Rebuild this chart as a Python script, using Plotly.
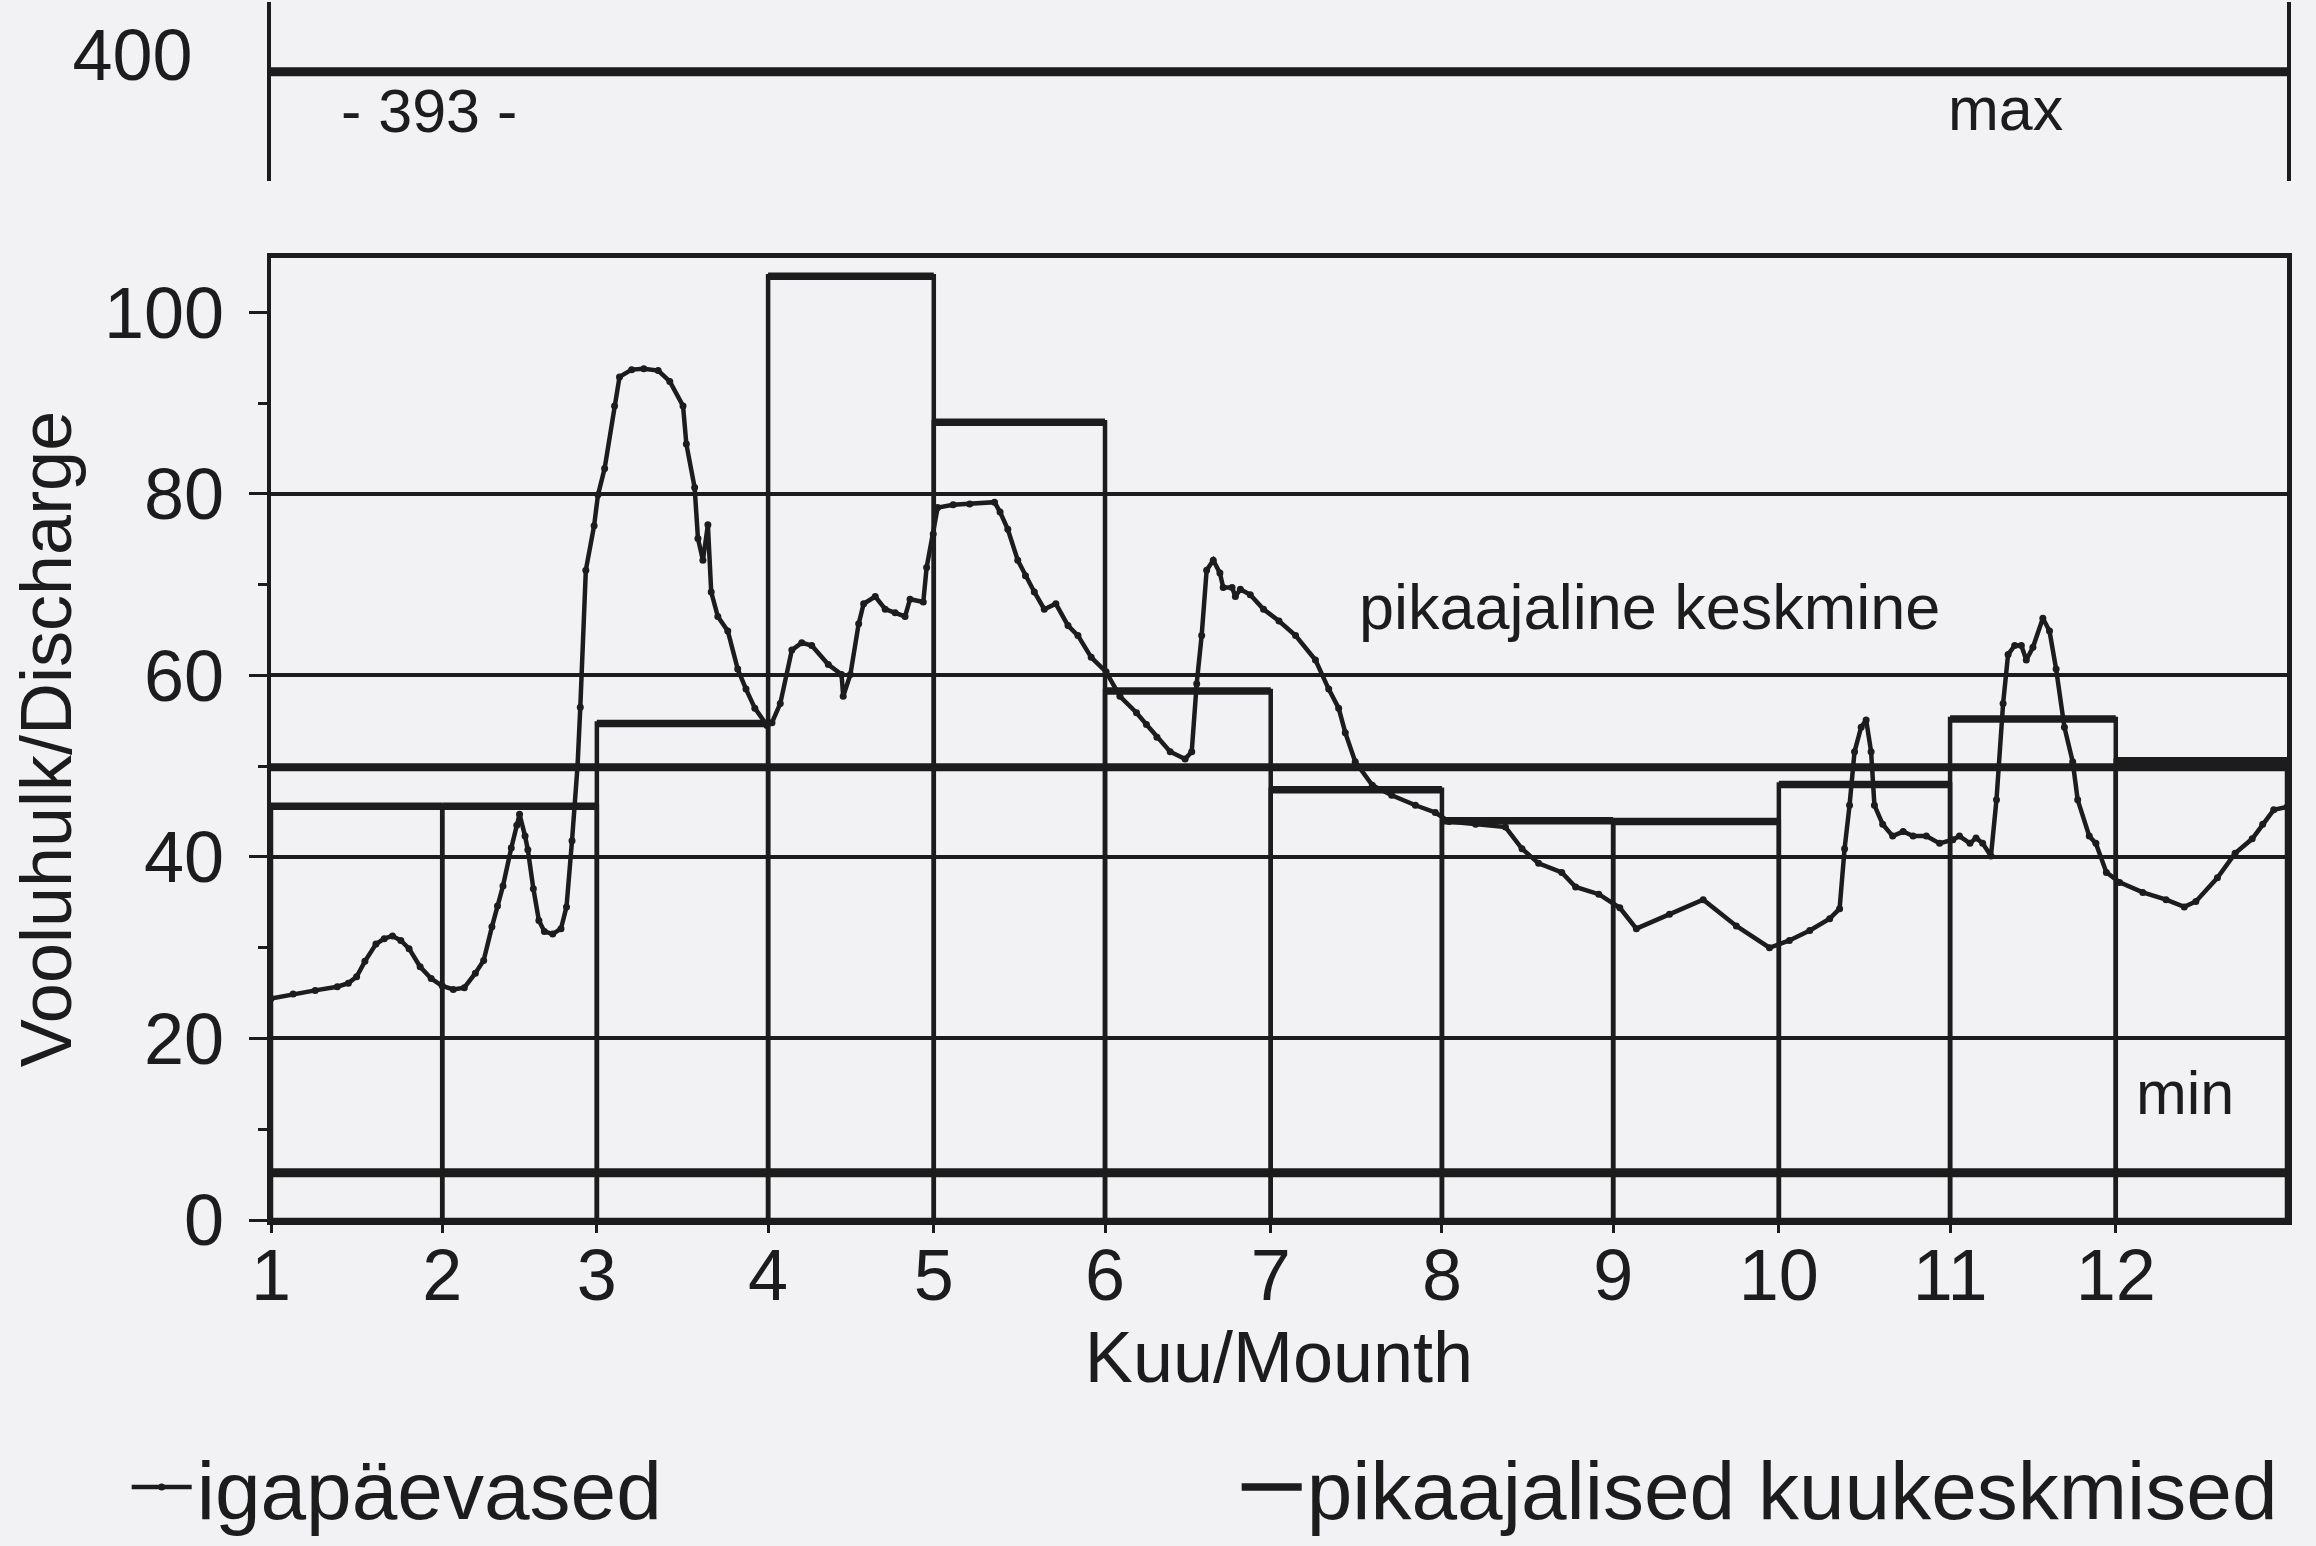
import plotly.graph_objects as go

# ---------------- data ----------------
months = [1, 2, 3, 4, 5, 6, 7, 8, 9, 10, 11, 12]
month_days = [31, 28, 31, 30, 31, 30, 31, 31, 30, 31, 30, 31]
# long-term monthly means (pikaajalised kuukeskmised)
monthly_mean = [45.6, 45.6, 54.7, 104.0, 87.9, 58.3, 47.4, 44.0, 43.9, 48.0, 55.2, 50.6]

long_term_mean = 49.9   # pikaajaline keskmine
min_discharge = 5.2     # min
max_discharge = 393     # max

# daily discharge (igapäevased): day of year, value
day = [0, 4, 8, 12, 14, 15.5, 17, 19, 20.5, 22, 23.5, 25, 27, 29, 31, 33, 35, 37, 38.5, 40,
       41, 42, 43.5, 44.5, 45, 46, 46.5, 47.5, 48.5, 49.5, 51, 52.5, 53.5, 54.5, 55.5, 56, 57, 58.5,
       59.2, 60.4, 62.2, 63.1, 65.3, 67.5, 70.1, 72.2, 74.6, 75.2, 76.7, 77.3, 78.2, 79.1, 79.7,
       80.9, 82.7, 84.5, 86, 87.6, 89.8,
       90.7, 92.2, 94.3, 96.1, 97.9, 100.9, 103.3, 103.6, 104.9, 106.4, 107.3, 109.4, 111.2, 113,
       114.8, 115.7, 118.1, 118.7, 119.9,
       120.7, 123.5, 126.5, 131, 132, 133.4, 135.2, 136.6, 138.2, 140, 142.1, 144.3, 146.1, 148.5,
       151.2,
       153.7, 156.7, 158.5, 160.4, 162.8, 165.5, 166.7, 167.6, 168.5, 169.4, 170.6, 171.8, 172.4,
       174, 174.6, 175.5, 177.3, 179.7,
       182.5, 185.5, 189.1, 191.5, 193.3, 194.5, 196.3, 199.4, 202.9, 207.2, 210.8, 213.3, 218.1,
       223.5, 226.5, 229.5, 233.7, 236.2, 240.4,
       244.2, 247.2, 253.2, 259.3, 265.3, 271.3, 274.9, 278.6, 282.2, 284, 284.9, 285.8, 286.7,
       287.9, 288.8, 289.7, 290.3, 291.8, 293.6, 295.5, 297.3, 299.7, 302.1, 304.5, 305.7, 307.6,
       308.7, 309.9, 311.4, 312.4, 313.6, 314.5, 315.7, 316.9, 317.8, 319, 320.8, 322, 323.2,
       324.7, 326.2, 327.1, 329.2, 330.4, 332.3, 334.7, 338.9, 343.1, 346.4, 348.5, 352.4, 355.6,
       358.7, 360.6, 362.6, 365]
discharge = [24.4, 24.9, 25.3, 25.7, 26.1, 26.8, 28.5, 30.4, 31.0, 31.3, 30.8, 29.9, 27.9, 26.6,
             25.8, 25.4, 25.6, 27.2, 28.6, 32.3,
             34.6, 36.8, 41.0, 43.5, 44.7, 42.3, 40.8, 36.5, 33.0, 31.8, 31.5, 32.1, 34.5, 41.8,
             50.0, 56.5, 71.6, 76.5,
             79.9, 82.8, 89.7, 92.9, 93.7, 93.8, 93.6, 92.4, 89.7, 85.5, 80.7, 75.1, 72.7, 76.6,
             69.2, 66.5, 64.9, 60.7, 58.5, 56.4, 54.5,
             54.8, 56.9, 62.8, 63.6, 63.3, 61.2, 60.1, 57.7, 60.1, 65.7, 67.9, 68.7, 67.3, 66.9,
             66.5, 68.4, 68.1, 71.9, 75.6,
             78.5, 78.8, 78.9, 79.1, 78.0, 76.1, 72.7, 71.0, 69.2, 67.3, 67.9, 65.5, 64.4, 62.0,
             60.4,
             57.7, 55.9, 54.6, 53.2, 51.6, 50.8, 51.6, 59.1, 64.4, 71.6, 72.7, 71.3, 69.7, 69.7,
             68.7, 69.5, 68.9, 67.3,
             66.0, 64.4, 61.7, 58.5, 56.4, 53.7, 50.5, 47.9, 46.8, 45.7, 44.9, 43.9, 43.6, 43.3,
             40.9, 39.3, 38.3, 36.7, 35.9,
             34.4, 32.1, 33.7, 35.3, 32.4, 30.0, 30.8, 31.9, 33.2, 34.3, 40.9, 45.7, 51.6, 54.3,
             55.1, 51.6, 45.7, 43.6, 42.3, 42.8, 42.3, 42.3, 41.5, 41.9, 42.3, 41.5, 42.1, 41.5,
             40.1, 46.3, 56.9, 62.3, 63.3, 63.3, 61.7, 63.1, 66.3, 64.9, 60.7, 54.3, 50.5, 46.3,
             42.3, 41.5, 38.3, 37.2, 36.1, 35.3, 34.5, 35.1, 37.7, 40.4, 42.0, 43.6, 45.2, 45.5]

# ---------------- derived positions ----------------
month_start = []
acc = 0
for d in month_days:
    month_start.append(acc)
    acc += d
year_len = acc
month_end = [s + d for s, d in zip(month_start, month_days)]
month_mid = [s + d / 2 for s, d in zip(month_start, month_days)]

top_x, top_y = [], []
for s, e, v in zip(month_start, month_end, monthly_mean):
    top_x += [s, e, None]
    top_y += [v, v, None]

# ---------------- style ----------------
INK = "#1c1c1c"
BG = "#f2f2f5"
FONT = "Liberation Sans, Arial, Helvetica, sans-serif"
W, H = 2316, 1546

x_dom = [271 / W, 2287 / W]
main_dom = [1 - 1220 / H, 1 - 258 / H]
top_dom = [1 - 181 / H, 1 - 2 / H]

fig = go.Figure()

fig.add_trace(go.Bar(
    x=month_mid, y=monthly_mean, width=month_days,
    marker=dict(color="rgba(0,0,0,0)", line=dict(color=INK, width=4.5)),
    name="pikaajalised kuukeskmised", legendgroup="mm", showlegend=False,
    xaxis="x", yaxis="y", hoverinfo="skip"))

fig.add_trace(go.Scatter(
    x=top_x, y=top_y, mode="lines", line=dict(color=INK, width=7.5),
    name="pikaajalised kuukeskmised", legendgroup="mm", legendrank=2,
    xaxis="x", yaxis="y", hoverinfo="skip"))

fig.add_trace(go.Scatter(
    x=[0, year_len], y=[long_term_mean, long_term_mean], mode="lines",
    line=dict(color=INK, width=8), showlegend=False, xaxis="x", yaxis="y", hoverinfo="skip"))

fig.add_trace(go.Scatter(
    x=[0, year_len], y=[min_discharge, min_discharge], mode="lines",
    line=dict(color=INK, width=9), showlegend=False, xaxis="x", yaxis="y", hoverinfo="skip"))

fig.add_trace(go.Scatter(
    x=day, y=discharge, mode="lines+markers",
    line=dict(color=INK, width=4.5), marker=dict(color=INK, size=7),
    name="igapäevased", legendrank=1, xaxis="x", yaxis="y"))

fig.add_trace(go.Scatter(
    x=[0, year_len], y=[max_discharge, max_discharge], mode="lines",
    line=dict(color=INK, width=9), showlegend=False, xaxis="x2", yaxis="y2", hoverinfo="skip"))

# invisible companion so the grid-line overlay axis is drawn
fig.add_trace(go.Scatter(
    x=day[:1], y=discharge[:1], mode="markers", marker=dict(opacity=0),
    showlegend=False, xaxis="x", yaxis="y3", hoverinfo="skip"))

ann_font = dict(family=FONT, size=61, color=INK)
fig.add_annotation(x=28.6, y=377, xref="x2", yref="y2", text=f"- {max_discharge} -",
                   showarrow=False, font=ann_font)
fig.add_annotation(x=314, y=378, xref="x2", yref="y2", text="max",
                   showarrow=False, font=ann_font)
fig.add_annotation(x=249.5, y=67.6, xref="x", yref="y", text="pikaajaline keskmine",
                   showarrow=False, font=dict(family=FONT, size=63, color=INK))
fig.add_annotation(x=346.5, y=14, xref="x", yref="y", text="min",
                   showarrow=False, font=ann_font)

tick_font = dict(family=FONT, size=72, color=INK)

fig.update_layout(
    width=W, height=H,
    margin=dict(l=0, r=0, t=0, b=0, autoexpand=False),
    paper_bgcolor=BG, plot_bgcolor=BG,
    font=dict(family=FONT, color=INK),
    barmode="overlay",
    hovermode=False,
    showlegend=True,
    legend=dict(orientation="h", x=0.0547, y=0.038, xanchor="left", yanchor="middle",
                font=dict(family=FONT, size=82, color=INK),
                bgcolor="rgba(0,0,0,0)", entrywidth=1035, entrywidthmode="pixels",
                itemwidth=60),
    xaxis=dict(domain=x_dom, anchor="y", range=[0, year_len], automargin=False,
               tickmode="array", tickvals=month_start, ticktext=[str(m) for m in months],
               ticks="outside", ticklen=8, tickwidth=3, tickcolor=INK,
               showline=True, linewidth=5, linecolor=INK, mirror=True,
               showgrid=False, zeroline=False, tickfont=tick_font, ticklabelstandoff=-19,
               title=dict(text="Kuu/Mounth", font=tick_font, standoff=19)),
    yaxis=dict(domain=main_dom, anchor="x", range=[0, 106], automargin=False,
               tickmode="array", tickvals=[0, 20, 40, 60, 80, 100],
               ticks="outside", ticklen=18, tickwidth=3, tickcolor=INK,
               minor=dict(tickmode="linear", tick0=0, dtick=10, ticks="outside",
                          ticklen=9, tickwidth=3, tickcolor=INK, showgrid=False),
               showline=True, linewidth=4.5, linecolor=INK, mirror=True,
               showgrid=False, zeroline=False, tickfont=tick_font, ticklabelstandoff=10,
               title=dict(text="Vooluhulk/Discharge", font=tick_font, standoff=10)),
    yaxis3=dict(overlaying="y", anchor="x", side="left", range=[0, 106], automargin=False,
                tickmode="array", tickvals=[20, 40, 60, 80],
                ticks="inside", ticklen=18, tickwidth=3, tickcolor=INK,
                showticklabels=False, showgrid=True, gridcolor=INK, gridwidth=4,
                zeroline=False, showline=False),
    xaxis2=dict(domain=x_dom, anchor="y2", range=[0, year_len], visible=False),
    yaxis2=dict(domain=top_dom, anchor="x2", range=[348.6, 421.4], automargin=False,
                tickmode="array", tickvals=[400], ticks="",
                showline=True, linewidth=4, linecolor=INK, mirror=True,
                showgrid=False, zeroline=False, tickfont=tick_font, ticklabelstandoff=60),
)

fig.write_html("out.html",
               config={"displayModeBar": False, "staticPlot": True},
               post_script="document.body.style.margin='0px';"
                           "document.body.style.background='" + BG + "';")
